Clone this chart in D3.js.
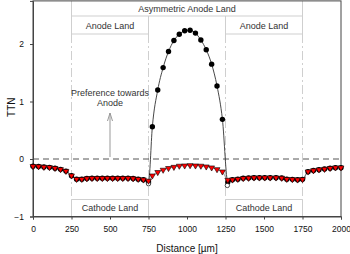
<!DOCTYPE html>
<html><head><meta charset="utf-8">
<script src="https://cdn.jsdelivr.net/npm/d3@7"></script>
<style>body{margin:0;background:#fff}svg{display:block;font-family:"Liberation Sans",Arial,sans-serif}</style>
</head><body><svg id="c" width="350" height="254"></svg>
<script>
// ---- data ----
const xTicks = [0, 250, 500, 750, 1000, 1250, 1500, 1750, 2000];
const yTicks = [-1, 0, 1, 2];
const leftX = [0, 36, 71, 107, 143, 179, 214, 250, 283, 317, 350, 383, 417, 450, 483, 517, 550, 583, 617, 650, 683, 717, 750];
const leftVals = [-0.127, -0.13, -0.14, -0.145, -0.16, -0.18, -0.21, -0.29, -0.35, -0.35, -0.34, -0.335, -0.335, -0.335, -0.335, -0.335, -0.335, -0.335, -0.335, -0.34, -0.35, -0.36, -0.38];
const midX = [775, 810, 845, 880, 915, 950, 985, 1020, 1055, 1090, 1125, 1160, 1195, 1230];
const midAnode = [0.56, 1.20, 1.59, 1.87, 2.06, 2.17, 2.23, 2.24, 2.19, 2.07, 1.90, 1.65, 1.27, 0.69];
const midSym = [-0.29, -0.23, -0.19, -0.16, -0.14, -0.12, -0.116, -0.11, -0.116, -0.12, -0.133, -0.15, -0.18, -0.22];
const rightX = [1265, 1295, 1330, 1365, 1400, 1435, 1470, 1505, 1540, 1578, 1615, 1648, 1684, 1718, 1750, 1786, 1821, 1857, 1893, 1929, 1964, 2000];
const rightVals = [-0.365, -0.36, -0.35, -0.336, -0.33, -0.325, -0.325, -0.325, -0.325, -0.325, -0.33, -0.35, -0.354, -0.36, -0.354, -0.22, -0.2, -0.185, -0.175, -0.16, -0.15, -0.15];
const openX = [750, 1262];
const openVals = [-0.43, -0.46];
const lands = [250, 750, 1250, 1750];

// ---- chart ----
const svg = d3.select("#c");
const x = d3.scaleLinear().domain([0, 2000]).range([33, 341]);
const y = d3.scaleLinear().domain([-1, 2.75]).range([216.5, 0.9]);
const grey = "#cfcfcf";
const txt = "#333";

const zip = (xs, vs) => xs.map((d, i) => [d, vs[i]]);
const seriesA = [...zip(leftX, leftVals.map((v,i)=> i===leftX.length-1 ? -0.40 : v)), ...zip(midX, midAnode), ...zip(rightX, rightVals.map((v,i)=> i===0 ? -0.40 : v))];
const seriesB = [...zip(leftX, leftVals), ...zip(midX, midSym), ...zip(rightX, rightVals)];

// annotation boxes
const g = svg.append("g").attr("stroke", grey).attr("stroke-width", 1).attr("fill", "none");
const topY = y(2.75), asymY = 16, anodeY = 34, cathY = 199.5, botY = y(-1);
g.append("line").attr("x1", x(250)).attr("x2", x(1750)).attr("y1", asymY).attr("y2", asymY);
[[250,750],[1250,1750]].forEach(([a,b]) => {
  g.append("line").attr("x1", x(a)).attr("x2", x(b)).attr("y1", anodeY).attr("y2", anodeY);
  g.append("line").attr("x1", x(a)).attr("x2", x(b)).attr("y1", cathY).attr("y2", cathY);
});
lands.forEach(l => {
  const y0 = (l === 250 || l === 1750) ? topY : asymY;
  g.append("line").attr("x1", x(l)).attr("x2", x(l)).attr("y1", y0).attr("y2", anodeY);
  g.append("line").attr("x1", x(l)).attr("x2", x(l)).attr("y1", anodeY).attr("y2", cathY).attr("stroke-dasharray", "9,3,2,3");
  g.append("line").attr("x1", x(l)).attr("x2", x(l)).attr("y1", cathY).attr("y2", botY);
});

const label = (t, cx, cy) => svg.append("text").attr("x", cx).attr("y", cy).attr("text-anchor", "middle")
  .attr("font-size", 9).attr("fill", txt).text(t);
label("Asymmetric Anode Land", x(1000), 11.5);
label("Anode Land", x(500), 28.5);
label("Anode Land", x(1500), 28.5);
label("Cathode Land", x(500), 211);
label("Cathode Land", x(1500), 211);
label("Preference towards", x(500), 95.5);
label("Anode", x(500), 105.5);

// arrow
const ax = x(500);
svg.append("line").attr("x1", ax).attr("x2", ax).attr("y1", 157).attr("y2", 113).attr("stroke", "#999").attr("stroke-width", 1);
svg.append("path").attr("d", `M${ax-2.5},${121} L${ax},${113} L${ax+2.5},${121}`).attr("stroke", "#999").attr("fill", "none");

// zero line
svg.append("line").attr("x1", x(0)).attr("x2", x(2000)).attr("y1", y(0)).attr("y2", y(0))
  .attr("stroke", "#555").attr("stroke-dasharray", "6,4").attr("stroke-width", 1);

// frame
svg.append("rect").attr("x", x(0)).attr("y", topY).attr("width", x(2000)-x(0)).attr("height", botY-topY)
  .attr("fill", "none").attr("stroke", "#444").attr("stroke-width", 1);

// axes
const xa = svg.append("g").attr("transform", `translate(0,${botY})`)
  .call(d3.axisBottom(x).tickValues(xTicks).tickSize(3).tickPadding(6).tickFormat(d3.format("d")));
const ya = svg.append("g").attr("transform", `translate(${x(0)},0)`)
  .call(d3.axisLeft(y).tickValues(yTicks).tickSize(3).tickPadding(6).tickFormat(d3.format("d")));
[xa, ya].forEach(a => {
  a.select(".domain").attr("stroke", "#444");
  a.selectAll(".tick line").attr("stroke", "#444");
  a.selectAll("text").attr("font-size", 8.5).attr("fill", "#111").attr("font-family", '"Liberation Sans",Arial,sans-serif');
});

svg.append("text").attr("x", x(1000)).attr("y", 251.5).attr("text-anchor", "middle").attr("font-size", 10).attr("fill", "#111").text("Distance [µm]");
svg.append("text").attr("transform", `translate(15,${y(0.9)}) rotate(-90)`).attr("text-anchor", "middle").attr("font-size", 10).attr("fill", "#111").text("TTN");

// lines
const line = d3.line().x(d => x(d[0])).y(d => y(d[1])).curve(d3.curveMonotoneX);
svg.append("path").attr("d", line(seriesA)).attr("fill", "none").attr("stroke", "#333").attr("stroke-width", 0.9);
svg.append("path").attr("d", line(seriesB)).attr("fill", "none").attr("stroke", "#888").attr("stroke-width", 0.8);

// markers
svg.append("g").selectAll("circle").data(seriesA).join("circle")
  .attr("cx", d => x(d[0])).attr("cy", d => y(d[1])).attr("r", 2.7).attr("fill", "#000");
svg.append("g").selectAll("circle").data(zip(openX, openVals)).join("circle")
  .attr("cx", d => x(d[0])).attr("cy", d => y(d[1])).attr("r", 2.2).attr("fill", "#fff").attr("stroke", "#000").attr("stroke-width", 0.7);
const tri = d3.symbol().type(d3.symbolTriangle).size(15);
svg.append("g").selectAll("path").data(seriesB).join("path")
  .attr("d", tri).attr("transform", d => `translate(${x(d[0])},${y(d[1])}) rotate(180)`)
  .attr("fill", "#ff0000").attr("stroke", "#000").attr("stroke-width", 0.6);
</script></body></html>
